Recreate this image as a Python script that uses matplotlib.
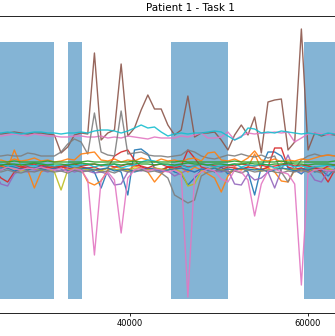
import numpy as np
import matplotlib.pyplot as plt

# sampling of the signals (one sample every 750 ms)
t_start = 24750
t_step = 750

# task blocks (start, end)
block_starts = [20000, 33000, 44600, 59500]
block_ends = [31500, 34600, 51000, 70000]
block_low, block_high = -135, 122

# channel values
ch_blue1 = [-3,-4,-2,-3,-5,-3,-4,-2,-3, -4,-3,-2,-4,-3,-5, -8,-24,-6,-5,-8,-31,
            14,15,10,-4,-6,-3, -8,-10,-21,-14,-6,-4,-8, -3,-10,-6,-4,-8,
            -31,-3,12,12,8,-4,-6, -10,-4,-8,-6,-12,-5,-4]
ch_orange1 = [-3,-2,-4,14,-2,-6,-24,-8,-4, -3,-2,-6,-4,-5,-18, -21,-17,-6,-3,-4,-6,
              -2,-4,-8,-18,-10,-3, -5,-4,-8,-3,-6,-10,-14, -28,-12,-4,-6,-3,
              10,-5,-4,-8,-17,-18,-6, -4,-8,-3,-5,-4,-8,-3]
ch_red1 = [-6,-14,-18,-8,-4,-3,-5,-4,-3, -5,-3,-4,-6,-3,-4, -3,-6,-4,8,12,14,
           4,-3,-5,-4,-6,-3, -4,-2,14,6,-3,-5,-4, -6,-3,-4,-5,-3,
           -4,-6,-3,16,16,-3,-5, -4,-6,-3,-8,-18,-6,-4]
ch_purple1 = [-8,-20,-22,-10,-6,-8,-7,-6,-8, -6,-7,-5,-8,-6,-7, -9,-8,-10,-21,-20,-8,
              -6,-7,-5,-6,-8,-7, -12,-9,-6,-8,-5,-6,-7, -8,-6,-20,-21,-10,
              -16,-14,-8,-24,-6,9,-7, -8,-6,-16,-18,-7,-8,-6]
ch_brown = [31,30,31,32,31,30,31,31,30, 29,11,17,29,31,30, 111,24,31,34,100,28,
            36,54,69,55,55,39, 29,34,68,27,31,31,32, 24,14,29,39,29,
            47,11,62,64,65,14,22, 135,14,31,28,30,29,31]
ch_pink1 = [29,28,29,30,29,28,30,29,28, 28,27,27,28,28,27, 27,28,26,27,26,28,
            27,26,25,27,26,26, 26,28,27,29,31,26,26, 27,32,24,28,31,
            30,31,31,32,31,32,22, 26,30,31,30,29,31,30]
ch_gray1 = [8,8,9,8,8,11,10,8,8, 8,12,20,25,22,10, 51,12,9,8,53,10,
            11,12,9,8,8,7, 8,9,14,12,8,6,5, 7,9,8,10,8,
            7,9,6,8,-8,-18,-5, 4,8,10,8,9,8,9]
ch_olive = [-5,-6,-4,-5,-7,-5,-4,-6,-5, -8,-26,-6,-5,-4,-6, -5,-7,-4,-6,-5,-7,
            -4,-5,-6,-4,-5,-6, -5,-8,-22,-20,-7,-5,-4, -6,-5,-7,-4,-6,
            -5,-7,-6,-5,-4,-6,-5, -7,-5,-6,-4,-5,-6,-5]
ch_cyan1 = [31,31,32,31,30,31,32,32,31, 31,30,31,31,32,31, 33,34,34,33,31,33,
            36,39,36,37,32,28, 30,31,30,31,31,32,33, 32,28,24,27,36,
            35,31,32,31,33,32,31, 30,31,30,29,31,30,31]
ch_blue2 = [-5,-6,-4,-7,-5,-6,-4,-5,-6, -4,-5,-7,-6,-5,-4, -6,-5,-4,-7,-6,-5,
            -8,-6,-4,-5,-7,-6, -5,-4,-6,-8,-5,-6,-4, -7,-5,-6,-4,-5,
            -6,-5,-8,-6,-4,-5,-7, -5,-6,-4,-5,-7,-6,-5]
ch_orange2 = [3,4,2,5,3,4,6,3,4, 2,3,5,4,10,11, 12,4,3,5,2,4,
              3,6,4,2,5,3, 4,2,5,6,3,11,12, 4,3,5,2,6,
              13,4,3,5,2,4,3, 5,4,6,8,9,8,5]
ch_red2 = [-1,-2,0,-1,-3,-1,0,-2,-1, -3,-2,-1,0,-2,-1, 0,-2,-1,-3,-2,0,
           -1,-2,-4,-1,0,-3, -2,-1,-3,-2,0,-1,-2, -3,-1,-2,0,-1,
           -2,-1,-3,-2,-1,0,-2, -1,-2,-4,-6,-2,-1,-3]
ch_gray2 = [-7,-8,-6,-8,-9,-7,-8,-6,-7, -8,-7,-9,-6,-8,-7, -6,-8,-7,-9,-6,-8,
            -7,-6,-8,-7,-9,-14, -31,-35,-39,-36,-12,-8,-7, -6,-8,-7,-9,-6,
            -8,-7,-6,-8,-9,-7,-8, -6,-8,-7,-9,-6,-8,-7]
ch_pink2 = [-4,-6,-3,-5,-6,-4,-5,-3,-5, -6,-4,-8,-5,-6,-16, -91,-16,-8,-16,-69,-14,
            -6,-4,-7,-5,-6,-8, -6,-10,-133,-12,-8,-5,-7, -15,-18,-6,-8,-16,
            -52,-20,-7,-5,-8,-10,-20, -121,-10,-6,-5,-7,-6,-5]
ch_cyan2 = [-1,0,-2,-1,0,-1,-2,0,-1, -2,-1,0,-2,-1,0, -3,-1,-2,0,-4,-2,
            -1,2,4,3,0,-1, -2,-1,-4,-2,0,-1,-3, -2,-1,0,-3,-1,
            -2,0,-1,-4,-2,-1,-3, -2,-4,-3,-2,-1,-3,-2]
ch_green1 = [2,2,2,3,2,2,2,2,3, 2,2,2,2,2,3, 2,2,2,2,2,2,
             3,2,2,2,2,2, 2,3,2,2,2,2,2, 2,2,3,2,2,
             2,2,2,2,3,2,2, 2,2,2,2,2,3,2]
ch_green2 = [0,-1,0,0,-1,0,1,0,-1, 0,0,-1,0,1,0, 0,-1,0,0,-1,0,
             1,0,0,-1,0,0, -1,0,1,0,0,-1,0, 0,-1,0,0,1,
             0,0,-1,0,0,1,0, 0,-1,0,0,0,-1,0]

channels = [ch_blue1, ch_orange1, ch_red1, ch_purple1, ch_brown, ch_pink1,
            ch_gray1, ch_olive, ch_cyan1, ch_blue2, ch_orange2, ch_red2,
            ch_gray2, ch_pink2, ch_cyan2, ch_green1, ch_green2]
colors = ["C0", "C1", "C3", "C4", "C5", "C6", "C7", "C8", "C9",
          "C0", "C1", "C3", "C7", "C6", "C9", "C2", "C2"]

xticks = [40000, 60000]

t = t_start + t_step*np.arange(len(ch_brown))

fig = plt.figure(figsize=(3.35, 3.36), dpi=100)
# only part of the full-width axes is shown
ax = fig.add_axes([-0.6746, 0.0699, 2.4842, 0.8825])

for s, e in zip(block_starts, block_ends):
  ax.fill_between([s, e], block_low, block_high, color="C0", alpha=0.55, lw=0, zorder=1)

for vals, c in zip(channels, colors):
  ax.plot(t, vals, color=c, lw=1.0, alpha=0.9, zorder=2)

ax.set_xlim(0, 93500)
ax.set_ylim(-148.5, 148)
ax.set_title("Patient 1 - Task 1", fontsize=7.5, pad=3.5)

# y axis sits outside the visible area
ax.set_yticks([])
ax.set_xticks(xticks)
ax.tick_params(labelsize=6, length=2.5, width=0.6, pad=2)
for sp in ax.spines.values():
  sp.set_linewidth(0.6)

fig.savefig("out.png", dpi=100)
